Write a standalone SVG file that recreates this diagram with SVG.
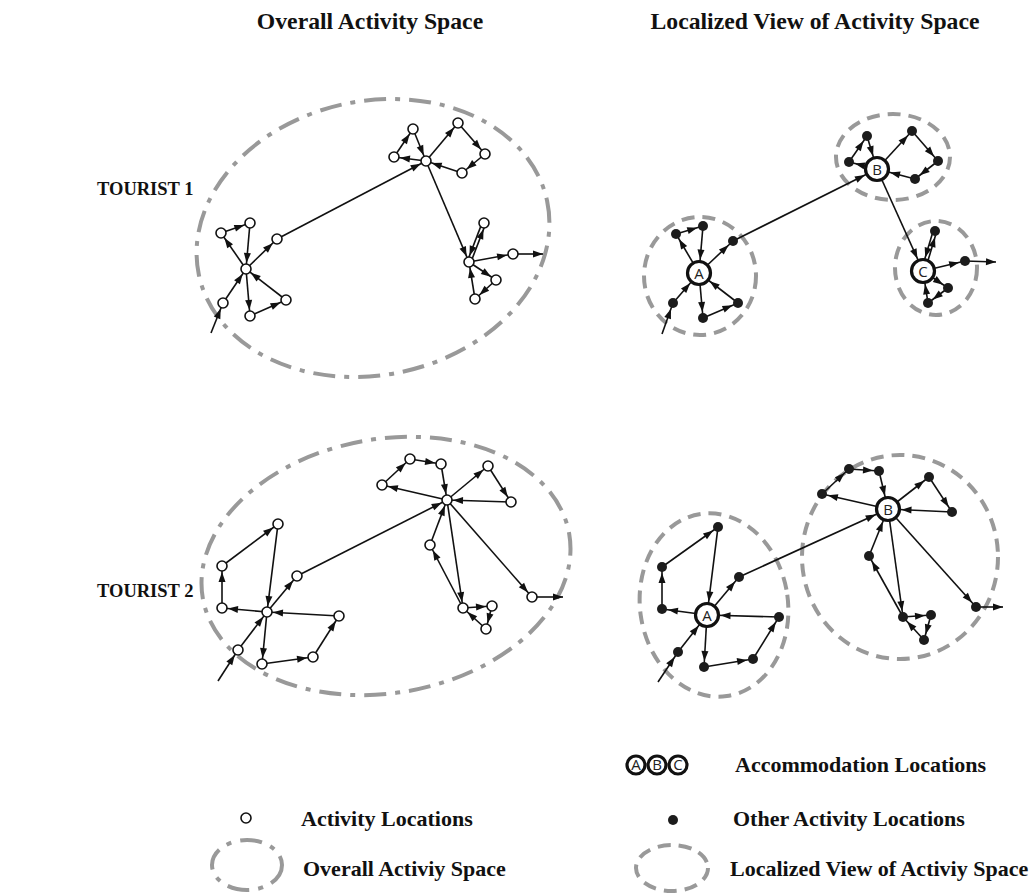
<svg xmlns="http://www.w3.org/2000/svg" width="1032" height="893" viewBox="0 0 1032 893">
<style>
.t{font-family:"Liberation Serif","Times New Roman",serif;font-weight:bold;fill:#111}
.ttl{font-size:23.7px}
.lab{font-size:18.5px}
.leg{font-size:22px}
.e{stroke:#111;stroke-width:1.6;fill:none;marker-end:url(#ah)}
.eb{stroke:#111;stroke-width:1.6;fill:none;marker-end:url(#ahb)}
.ef{stroke:#111;stroke-width:1.6;fill:none;marker-end:url(#ahf)}
.ln{stroke:#111;stroke-width:1.6;fill:none}
.o{fill:#fff;stroke:#111;stroke-width:1.6}
.f{fill:#1c1c1c}
.acc{fill:#fff;stroke:#111;stroke-width:3.2}
.al{font-family:"Open Sans","Liberation Sans",sans-serif;font-size:15px;fill:#222;text-anchor:middle}
.dd{fill:none;stroke:#999;stroke-width:4;stroke-dasharray:22 9 5 9}
.dl{fill:none;stroke:#999;stroke-width:4;stroke-dasharray:13 8}
</style>
<defs>
<marker id="ah" markerUnits="userSpaceOnUse" markerWidth="30" markerHeight="10" refX="16" refY="3.5" orient="auto" overflow="visible"><path d="M0,0 L10,3.5 L0,7 z" fill="#111"/></marker>
<marker id="ahb" markerUnits="userSpaceOnUse" markerWidth="30" markerHeight="10" refX="23.5" refY="3.5" orient="auto" overflow="visible"><path d="M0,0 L10,3.5 L0,7 z" fill="#111"/></marker>
<marker id="ahf" markerUnits="userSpaceOnUse" markerWidth="12" markerHeight="10" refX="10" refY="3.5" orient="auto" overflow="visible"><path d="M0,0 L10,3.5 L0,7 z" fill="#111"/></marker>
</defs>

<g id="titles">
<text class="t ttl" x="370" y="29" text-anchor="middle">Overall Activity Space</text>
<text class="t ttl" x="815" y="29" text-anchor="middle">Localized View of Activity Space</text>
<text class="t lab" x="97" y="195">TOURIST 1</text>
<text class="t lab" x="97" y="597">TOURIST 2</text>
</g>

<g id="spaces">
<ellipse id="t1-overall" class="dd" cx="373" cy="238" rx="178" ry="137" transform="rotate(-12 373 238)"/>
<ellipse id="t2-overall" class="dd" cx="386" cy="566" rx="186" ry="127" transform="rotate(-10 386 566)"/>
<ellipse id="t1-locA" class="dl" cx="700" cy="276" rx="56" ry="59"/>
<ellipse id="t1-locB" class="dl" cx="893" cy="157" rx="57" ry="43"/>
<ellipse id="t1-locC" class="dl" cx="936" cy="268" rx="41" ry="47"/>
<ellipse id="t2-locA" class="dl" cx="714" cy="605" rx="74" ry="92" transform="rotate(-8 714 605)"/>
<ellipse id="t2-locB" class="dl" cx="900" cy="557" rx="98" ry="102"/>
</g>

<g id="connectors">
<line class="e" x1="211" y1="333" x2="223" y2="303"/>
<line class="e" x1="223" y1="303" x2="246" y2="269"/>
<line class="e" x1="246" y1="269" x2="221" y2="233"/>
<line class="e" x1="221" y1="233" x2="250" y2="223"/>
<line class="e" x1="250" y1="223" x2="246" y2="269"/>
<line class="e" x1="246" y1="269" x2="277" y2="239"/>
<line class="e" x1="277" y1="239" x2="426" y2="161"/>
<line class="e" x1="246" y1="269" x2="250" y2="316"/>
<line class="e" x1="250" y1="316" x2="286" y2="300"/>
<line class="e" x1="286" y1="300" x2="246" y2="269"/>
<line class="e" x1="426" y1="161" x2="394" y2="157"/>
<line class="e" x1="394" y1="157" x2="413" y2="129"/>
<line class="e" x1="413" y1="129" x2="426" y2="161"/>
<line class="e" x1="426" y1="161" x2="458" y2="123"/>
<line class="e" x1="458" y1="123" x2="485" y2="154"/>
<line class="e" x1="485" y1="154" x2="462" y2="173"/>
<line class="e" x1="462" y1="173" x2="426" y2="161"/>
<line class="e" x1="426" y1="161" x2="469" y2="262"/>
<line class="e" x1="470.7" y1="262.6" x2="485.7" y2="223.6"/>
<line class="e" x1="482.3" y1="222.4" x2="467.3" y2="261.4"/>
<line class="e" x1="469" y1="262" x2="513" y2="254"/>
<line class="ef" x1="513" y1="254" x2="543" y2="254"/>
<line class="e" x1="469" y1="262" x2="496" y2="280"/>
<line class="e" x1="496" y1="280" x2="475" y2="299"/>
<line class="e" x1="475" y1="299" x2="469" y2="262"/>
<line class="e" x1="662" y1="334" x2="673" y2="303"/>
<line class="eb" x1="673" y1="303" x2="699" y2="273"/>
<line class="e" x1="699" y1="273" x2="676" y2="234"/>
<line class="e" x1="676" y1="234" x2="703" y2="226"/>
<line class="eb" x1="703" y1="226" x2="699" y2="273"/>
<line class="e" x1="699" y1="273" x2="733" y2="241"/>
<line class="eb" x1="733" y1="241" x2="877" y2="169"/>
<line class="e" x1="699" y1="273" x2="703" y2="318"/>
<line class="e" x1="703" y1="318" x2="738" y2="303"/>
<line class="eb" x1="738" y1="303" x2="699" y2="273"/>
<line class="e" x1="877" y1="169" x2="849" y2="162"/>
<line class="e" x1="849" y1="162" x2="867" y2="136"/>
<line class="eb" x1="867" y1="136" x2="877" y2="169"/>
<line class="e" x1="877" y1="169" x2="912" y2="131"/>
<line class="e" x1="912" y1="131" x2="938" y2="161"/>
<line class="e" x1="938" y1="161" x2="915" y2="179"/>
<line class="eb" x1="915" y1="179" x2="877" y2="169"/>
<line class="eb" x1="877" y1="169" x2="923" y2="271"/>
<line class="e" x1="924.7" y1="271.5" x2="936.7" y2="231.5"/>
<line class="eb" x1="933.3" y1="230.5" x2="921.3" y2="270.5"/>
<line class="e" x1="923" y1="271" x2="965" y2="261"/>
<line class="ef" x1="965" y1="261" x2="996" y2="262"/>
<line class="e" x1="923" y1="271" x2="948" y2="288"/>
<line class="e" x1="948" y1="288" x2="928" y2="303"/>
<line class="eb" x1="928" y1="303" x2="923" y2="271"/>
<line class="e" x1="218" y1="681" x2="238" y2="650"/>
<line class="e" x1="238" y1="650" x2="267" y2="612"/>
<line class="e" x1="267" y1="612" x2="222" y2="608"/>
<line class="e" x1="222" y1="608" x2="222" y2="566"/>
<line class="e" x1="222" y1="566" x2="278" y2="524"/>
<line class="e" x1="278" y1="524" x2="267" y2="612"/>
<line class="e" x1="267" y1="612" x2="297" y2="576"/>
<line class="e" x1="297" y1="576" x2="447" y2="500"/>
<line class="e" x1="267" y1="612" x2="262" y2="664"/>
<line class="e" x1="262" y1="664" x2="313" y2="657"/>
<line class="e" x1="313" y1="657" x2="339" y2="616"/>
<line class="e" x1="339" y1="616" x2="267" y2="612"/>
<line class="e" x1="447" y1="500" x2="382" y2="485"/>
<line class="e" x1="382" y1="485" x2="410" y2="459"/>
<line class="e" x1="410" y1="459" x2="441" y2="464"/>
<line class="e" x1="441" y1="464" x2="447" y2="500"/>
<line class="e" x1="447" y1="500" x2="488" y2="466"/>
<line class="e" x1="488" y1="466" x2="511" y2="502"/>
<line class="e" x1="511" y1="502" x2="447" y2="500"/>
<line class="e" x1="447" y1="500" x2="463" y2="608"/>
<line class="e" x1="463" y1="608" x2="430" y2="545"/>
<line class="e" x1="430" y1="545" x2="447" y2="500"/>
<line class="e" x1="463" y1="608" x2="492" y2="606"/>
<line class="e" x1="492" y1="606" x2="486" y2="629"/>
<line class="e" x1="486" y1="629" x2="463" y2="608"/>
<line class="e" x1="447" y1="500" x2="532" y2="597"/>
<line class="ef" x1="532" y1="597" x2="563" y2="597"/>
<line class="e" x1="658" y1="682" x2="678" y2="652"/>
<line class="eb" x1="678" y1="652" x2="707" y2="615"/>
<line class="e" x1="707" y1="615" x2="662" y2="609"/>
<line class="e" x1="662" y1="609" x2="662" y2="567"/>
<line class="e" x1="662" y1="567" x2="718" y2="527"/>
<line class="eb" x1="718" y1="527" x2="707" y2="615"/>
<line class="e" x1="707" y1="615" x2="739" y2="577"/>
<line class="eb" x1="739" y1="577" x2="888" y2="509"/>
<line class="e" x1="707" y1="615" x2="704" y2="667"/>
<line class="e" x1="704" y1="667" x2="753" y2="659"/>
<line class="e" x1="753" y1="659" x2="779" y2="617"/>
<line class="eb" x1="779" y1="617" x2="707" y2="615"/>
<line class="e" x1="888" y1="509" x2="822" y2="494"/>
<line class="e" x1="822" y1="494" x2="849" y2="469"/>
<line class="e" x1="849" y1="469" x2="879" y2="471"/>
<line class="eb" x1="879" y1="471" x2="888" y2="509"/>
<line class="e" x1="888" y1="509" x2="929" y2="477"/>
<line class="e" x1="929" y1="477" x2="952" y2="512"/>
<line class="eb" x1="952" y1="512" x2="888" y2="509"/>
<line class="e" x1="888" y1="509" x2="903" y2="617"/>
<line class="e" x1="903" y1="617" x2="869" y2="556"/>
<line class="eb" x1="869" y1="556" x2="888" y2="509"/>
<line class="e" x1="903" y1="617" x2="931" y2="615"/>
<line class="e" x1="931" y1="615" x2="924" y2="640"/>
<line class="e" x1="924" y1="640" x2="903" y2="617"/>
<line class="e" x1="888" y1="509" x2="976" y2="607"/>
<line class="ef" x1="976" y1="607" x2="1003" y2="607"/>
</g>

<g id="t1o-h1"><circle class="o" cx="246" cy="269" r="5"/></g>
<g id="t1o-a"><circle class="o" cx="221" cy="233" r="5"/></g>
<g id="t1o-b"><circle class="o" cx="250" cy="223" r="5"/></g>
<g id="t1o-c"><circle class="o" cx="277" cy="239" r="5"/></g>
<g id="t1o-d"><circle class="o" cx="223" cy="303" r="5"/></g>
<g id="t1o-e"><circle class="o" cx="250" cy="316" r="5"/></g>
<g id="t1o-f"><circle class="o" cx="286" cy="300" r="5"/></g>
<g id="t1o-h2"><circle class="o" cx="426" cy="161" r="5"/></g>
<g id="t1o-g"><circle class="o" cx="394" cy="157" r="5"/></g>
<g id="t1o-h"><circle class="o" cx="413" cy="129" r="5"/></g>
<g id="t1o-i"><circle class="o" cx="458" cy="123" r="5"/></g>
<g id="t1o-j"><circle class="o" cx="485" cy="154" r="5"/></g>
<g id="t1o-k"><circle class="o" cx="462" cy="173" r="5"/></g>
<g id="t1o-h3"><circle class="o" cx="469" cy="262" r="5"/></g>
<g id="t1o-l"><circle class="o" cx="484" cy="223" r="5"/></g>
<g id="t1o-m"><circle class="o" cx="513" cy="254" r="5"/></g>
<g id="t1o-n"><circle class="o" cx="496" cy="280" r="5"/></g>
<g id="t1o-o"><circle class="o" cx="475" cy="299" r="5"/></g>

<g id="t1l-A"><circle class="acc" cx="699" cy="273" r="11.5"/><text class="al" x="699" y="279">A</text></g>
<g id="t1l-a"><circle class="f" cx="676" cy="234" r="5"/></g>
<g id="t1l-b"><circle class="f" cx="703" cy="226" r="5"/></g>
<g id="t1l-c"><circle class="f" cx="733" cy="241" r="5"/></g>
<g id="t1l-d"><circle class="f" cx="673" cy="303" r="5"/></g>
<g id="t1l-e"><circle class="f" cx="703" cy="318" r="5"/></g>
<g id="t1l-f"><circle class="f" cx="738" cy="303" r="5"/></g>
<g id="t1l-B"><circle class="acc" cx="877" cy="169" r="11.5"/><text class="al" x="877" y="175">B</text></g>
<g id="t1l-g"><circle class="f" cx="849" cy="162" r="5"/></g>
<g id="t1l-h"><circle class="f" cx="867" cy="136" r="5"/></g>
<g id="t1l-i"><circle class="f" cx="912" cy="131" r="5"/></g>
<g id="t1l-j"><circle class="f" cx="938" cy="161" r="5"/></g>
<g id="t1l-k"><circle class="f" cx="915" cy="179" r="5"/></g>
<g id="t1l-C"><circle class="acc" cx="923" cy="271" r="11.5"/><text class="al" x="923" y="277">C</text></g>
<g id="t1l-l"><circle class="f" cx="935" cy="231" r="5"/></g>
<g id="t1l-m"><circle class="f" cx="965" cy="261" r="5"/></g>
<g id="t1l-n"><circle class="f" cx="948" cy="288" r="5"/></g>
<g id="t1l-o"><circle class="f" cx="928" cy="303" r="5"/></g>

<g id="t2o-h1"><circle class="o" cx="267" cy="612" r="5"/></g>
<g id="t2o-p"><circle class="o" cx="278" cy="524" r="5"/></g>
<g id="t2o-q"><circle class="o" cx="222" cy="566" r="5"/></g>
<g id="t2o-r"><circle class="o" cx="222" cy="608" r="5"/></g>
<g id="t2o-s"><circle class="o" cx="297" cy="576" r="5"/></g>
<g id="t2o-u"><circle class="o" cx="339" cy="616" r="5"/></g>
<g id="t2o-v"><circle class="o" cx="238" cy="650" r="5"/></g>
<g id="t2o-w"><circle class="o" cx="262" cy="664" r="5"/></g>
<g id="t2o-x"><circle class="o" cx="313" cy="657" r="5"/></g>
<g id="t2o-h2"><circle class="o" cx="447" cy="500" r="5"/></g>
<g id="t2o-a"><circle class="o" cx="382" cy="485" r="5"/></g>
<g id="t2o-b"><circle class="o" cx="410" cy="459" r="5"/></g>
<g id="t2o-c"><circle class="o" cx="441" cy="464" r="5"/></g>
<g id="t2o-d"><circle class="o" cx="488" cy="466" r="5"/></g>
<g id="t2o-e"><circle class="o" cx="511" cy="502" r="5"/></g>
<g id="t2o-f"><circle class="o" cx="430" cy="545" r="5"/></g>
<g id="t2o-g"><circle class="o" cx="463" cy="608" r="5"/></g>
<g id="t2o-hh"><circle class="o" cx="492" cy="606" r="5"/></g>
<g id="t2o-i"><circle class="o" cx="486" cy="629" r="5"/></g>
<g id="t2o-j"><circle class="o" cx="532" cy="597" r="5"/></g>

<g id="t2l-A"><circle class="acc" cx="707" cy="615" r="11.5"/><text class="al" x="707" y="621">A</text></g>
<g id="t2l-p"><circle class="f" cx="718" cy="527" r="5"/></g>
<g id="t2l-q"><circle class="f" cx="662" cy="567" r="5"/></g>
<g id="t2l-r"><circle class="f" cx="662" cy="609" r="5"/></g>
<g id="t2l-s"><circle class="f" cx="739" cy="577" r="5"/></g>
<g id="t2l-u"><circle class="f" cx="779" cy="617" r="5"/></g>
<g id="t2l-v"><circle class="f" cx="678" cy="652" r="5"/></g>
<g id="t2l-w"><circle class="f" cx="704" cy="667" r="5"/></g>
<g id="t2l-x"><circle class="f" cx="753" cy="659" r="5"/></g>
<g id="t2l-B"><circle class="acc" cx="888" cy="509" r="11.5"/><text class="al" x="888" y="515">B</text></g>
<g id="t2l-a"><circle class="f" cx="822" cy="494" r="5"/></g>
<g id="t2l-b"><circle class="f" cx="849" cy="469" r="5"/></g>
<g id="t2l-c"><circle class="f" cx="879" cy="471" r="5"/></g>
<g id="t2l-d"><circle class="f" cx="929" cy="477" r="5"/></g>
<g id="t2l-e"><circle class="f" cx="952" cy="512" r="5"/></g>
<g id="t2l-f"><circle class="f" cx="869" cy="556" r="5"/></g>
<g id="t2l-g"><circle class="f" cx="903" cy="617" r="5"/></g>
<g id="t2l-h"><circle class="f" cx="931" cy="615" r="5"/></g>
<g id="t2l-i"><circle class="f" cx="924" cy="640" r="5"/></g>
<g id="t2l-j"><circle class="f" cx="976" cy="607" r="5"/></g>

<g id="legend-accommodation">
<circle class="acc" cx="636" cy="765" r="9" stroke-width="2.6"/><text class="al" x="636" y="770" font-size="12">A</text>
<circle class="acc" cx="657" cy="765" r="9" stroke-width="2.6"/><text class="al" x="657" y="770" font-size="12">B</text>
<circle class="acc" cx="678" cy="765" r="9" stroke-width="2.6"/><text class="al" x="678" y="770" font-size="12">C</text>
<text class="t leg" x="735" y="772">Accommodation Locations</text>
</g>
<g id="legend-other">
<circle class="f" cx="673" cy="820" r="5"/>
<text class="t leg" x="733" y="826">Other Activity Locations</text>
</g>
<g id="legend-localized">
<ellipse class="dl" cx="672" cy="868" rx="36" ry="23"/>
<text class="t leg" x="730" y="876">Localized View of Activiy Space</text>
</g>
<g id="legend-activity">
<circle class="o" cx="246" cy="818" r="5"/>
<text class="t leg" x="301" y="826">Activity Locations</text>
</g>
<g id="legend-overall">
<ellipse class="dd" cx="247" cy="865" rx="35" ry="25"/>
<text class="t leg" x="303" y="876">Overall Activiy Space</text>
</g>
</svg>
